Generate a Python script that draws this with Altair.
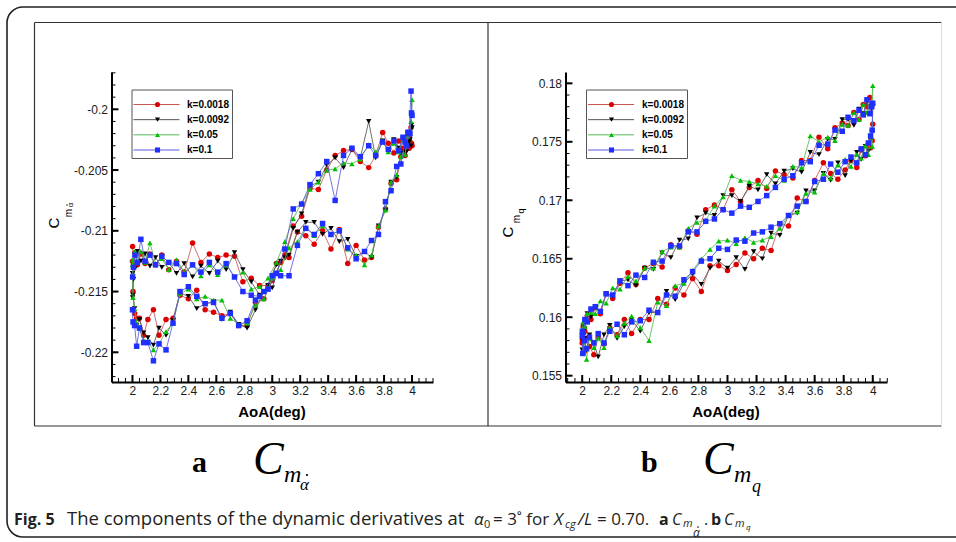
import altair as alt
import pandas as pd

# ---------------- data ----------------
SERIES = ["k=0.0018", "k=0.0092", "k=0.05", "k=0.1"]
MARKER_COLORS = ["#dd0000", "#000000", "#00c000", "#1f2fff"]
LINE_COLORS = ["#cc5555", "#555555", "#55bb55", "#5a5ade"]
SHAPES = ["circle", "triangle-down", "triangle-up", "square"]

# AoA samples over one oscillation cycle (up then down)
AOA = [2.000, 2.004, 2.015, 2.03, 2.05, 2.08, 2.11, 2.15, 2.19, 2.24, 2.29,
       2.34, 2.40, 2.46, 2.52, 2.58, 2.64, 2.70, 2.76, 2.82, 2.88, 2.94,
       3.00, 3.06, 3.12, 3.18, 3.24, 3.30, 3.36, 3.42, 3.48, 3.54, 3.60,
       3.66, 3.71, 3.76, 3.81, 3.85, 3.89, 3.92, 3.95, 3.97, 3.985, 3.996,
       4.000, 3.993, 3.98, 3.96, 3.935, 3.905, 3.87, 3.83, 3.79, 3.74, 3.69,
       3.63, 3.57, 3.51, 3.45, 3.39, 3.33, 3.27, 3.21, 3.15, 3.09, 3.03,
       2.97, 2.91, 2.85, 2.79, 2.73, 2.67, 2.61, 2.55, 2.49, 2.43, 2.37,
       2.315, 2.26, 2.21, 2.165, 2.125, 2.09, 2.06, 2.035, 2.018, 2.007, 2.001]

# panel a : Cm_alpha_dot
CMAD_0018 = [-0.2125, -0.2150, -0.2168, -0.2172, -0.2172, -0.2186, -0.2173, -0.2165, -0.2186, -0.2173, -0.2172,
             -0.2153, -0.2156, -0.2149, -0.2165, -0.2167, -0.2170, -0.2168, -0.2178, -0.2178, -0.2159, -0.2156,
             -0.2141, -0.2126, -0.2122, -0.2101, -0.2104, -0.2111, -0.2100, -0.2115, -0.2099, -0.2127, -0.2112,
             -0.2124, -0.2122, -0.2097, -0.2082, -0.2061, -0.2058, -0.2039, -0.2038, -0.2023, -0.2030, -0.2028,
             -0.2030, -0.2015, -0.2032, -0.2025, -0.2032, -0.2026, -0.2036, -0.2028, -0.2019, -0.2038, -0.2048,
             -0.2043, -0.2033, -0.2034, -0.2038, -0.2050, -0.2066, -0.2065, -0.2088, -0.2096, -0.2120, -0.2127,
             -0.2145, -0.2145, -0.2139, -0.2142, -0.2121, -0.2120, -0.2122, -0.2119, -0.2126, -0.2110, -0.2134,
             -0.2125, -0.2132, -0.2120, -0.2128, -0.2119, -0.2127, -0.2119, -0.2128, -0.2118, -0.2128, -0.2113]
CMAD_0092 = [-0.2135, -0.2153, -0.2164, -0.2178, -0.2173, -0.2184, -0.2188, -0.2194, -0.2180, -0.2186, -0.2174,
             -0.2151, -0.2154, -0.2164, -0.2160, -0.2158, -0.2173, -0.2167, -0.2177, -0.2180, -0.2165, -0.2150,
             -0.2147, -0.2125, -0.2120, -0.2101, -0.2093, -0.2093, -0.2103, -0.2098, -0.2109, -0.2107, -0.2121,
             -0.2117, -0.2122, -0.2096, -0.2083, -0.2060, -0.2056, -0.2036, -0.2035, -0.2023, -0.2025, -0.2013,
             -0.2015, -0.2030, -0.2027, -0.2035, -0.2025, -0.2032, -0.2025, -0.2034, -0.2026, -0.2040, -0.2010,
             -0.2040, -0.2033, -0.2048, -0.2040, -0.2046, -0.2060, -0.2063, -0.2086, -0.2098, -0.2122, -0.2128,
             -0.2145, -0.2153, -0.2142, -0.2132, -0.2118, -0.2132, -0.2125, -0.2135, -0.2129, -0.2138, -0.2127,
             -0.2135, -0.2126, -0.2130, -0.2122, -0.2129, -0.2119, -0.2125, -0.2117, -0.2131, -0.2140, -0.2155]
CMAD_05 = [-0.2128, -0.2155, -0.2164, -0.2176, -0.2180, -0.2190, -0.2191, -0.2198, -0.2193, -0.2183, -0.2176,
           -0.2152, -0.2148, -0.2156, -0.2154, -0.2157, -0.2157, -0.2172, -0.2177, -0.2176, -0.2161, -0.2156,
           -0.2139, -0.2132, -0.2114, -0.2109, -0.2097, -0.2104, -0.2096, -0.2103, -0.2100, -0.2115, -0.2120,
           -0.2128, -0.2120, -0.2096, -0.2083, -0.2060, -0.2054, -0.2039, -0.2037, -0.2022, -0.2020, -0.2003,
           -0.1992, -0.2010, -0.2019, -0.2029, -0.2025, -0.2035, -0.2028, -0.2035, -0.2026, -0.2035, -0.2029,
           -0.2041, -0.2045, -0.2044, -0.2049, -0.2050, -0.2060, -0.2066, -0.2077, -0.2090, -0.2109, -0.2126,
           -0.2139, -0.2146, -0.2148, -0.2134, -0.2138, -0.2128, -0.2136, -0.2128, -0.2137, -0.2128, -0.2134,
           -0.2124, -0.2132, -0.2123, -0.2127, -0.2110, -0.2126, -0.2117, -0.2126, -0.2117, -0.2127, -0.2124]
CMAD_1 = [-0.2165, -0.2175, -0.2178, -0.2195, -0.2180, -0.2192, -0.2192, -0.2207, -0.2193, -0.2198, -0.2176,
          -0.2150, -0.2146, -0.2154, -0.2160, -0.2159, -0.2172, -0.2168, -0.2178, -0.2174, -0.2157, -0.2150,
          -0.2137, -0.2137, -0.2137, -0.2112, -0.2098, -0.2103, -0.2094, -0.2103, -0.2100, -0.2114, -0.2123,
          -0.2117, -0.2108, -0.2103, -0.2076, -0.2067, -0.2047, -0.2045, -0.2027, -0.2019, -0.2020, -0.2003,
          -0.2005, -0.1985, -0.2019, -0.2030, -0.2023, -0.2034, -0.2026, -0.2033, -0.2027, -0.2038, -0.2030,
          -0.2039, -0.2032, -0.2038, -0.2075, -0.2043, -0.2053, -0.2062, -0.2078, -0.2082, -0.2115, -0.2135,
          -0.2148, -0.2154, -0.2153, -0.2150, -0.2138, -0.2127, -0.2134, -0.2126, -0.2134, -0.2128, -0.2136,
          -0.2127, -0.2126, -0.2121, -0.2128, -0.2120, -0.2125, -0.2107, -0.2126, -0.2120, -0.2130, -0.2138]

# panel b : Cm_q
CMQ_0018 = [0.1578, 0.1579, 0.1571, 0.1582, 0.1575, 0.1568, 0.1583, 0.1577, 0.1591, 0.1585, 0.1598,
            0.1586, 0.1598, 0.1598, 0.1616, 0.1611, 0.1625, 0.1619, 0.1633, 0.1622, 0.1644, 0.1644,
            0.1640, 0.1645, 0.1655, 0.1650, 0.1659, 0.1657, 0.1680, 0.1678, 0.1702, 0.1699, 0.1717,
            0.1732, 0.1723, 0.1718, 0.1726, 0.1734, 0.1728, 0.1743, 0.1738, 0.1748, 0.1745, 0.1751,
            0.1765, 0.1783, 0.1788, 0.1780, 0.1782, 0.1769, 0.1775, 0.1764, 0.1766, 0.1762, 0.1744,
            0.1754, 0.1734, 0.1734, 0.1719, 0.1722, 0.1725, 0.1710, 0.1717, 0.1711, 0.1699, 0.1709,
            0.1692, 0.1696, 0.1692, 0.1671, 0.1674, 0.1660, 0.1662, 0.1643, 0.1646, 0.1642, 0.1628,
            0.1638, 0.1629, 0.1616, 0.1620, 0.1603, 0.1608, 0.1598, 0.1601, 0.1588, 0.1592, 0.1581]
CMQ_0092 = [0.1572, 0.1580, 0.1582, 0.1572, 0.1585, 0.1578, 0.1566, 0.1585, 0.1593, 0.1582, 0.1592,
            0.1598, 0.1588, 0.1604, 0.1604, 0.1622, 0.1615, 0.1629, 0.1637, 0.1628, 0.1642, 0.1648,
            0.1642, 0.1651, 0.1641, 0.1656, 0.1650, 0.1672, 0.1670, 0.1687, 0.1689, 0.1708, 0.1708,
            0.1723, 0.1717, 0.1732, 0.1721, 0.1734, 0.1741, 0.1735, 0.1746, 0.1742, 0.1751, 0.1758,
            0.1780, 0.1778, 0.1774, 0.1784, 0.1774, 0.1778, 0.1764, 0.1769, 0.1769, 0.1752, 0.1752,
            0.1739, 0.1741, 0.1724, 0.1727, 0.1725, 0.1714, 0.1722, 0.1709, 0.1712, 0.1699, 0.1704,
            0.1704, 0.1687, 0.1689, 0.1685, 0.1667, 0.1666, 0.1651, 0.1655, 0.1641, 0.1642, 0.1627,
            0.1632, 0.1631, 0.1618, 0.1620, 0.1605, 0.1609, 0.1600, 0.1603, 0.1590, 0.1593, 0.1584]
CMQ_05 = [0.1570, 0.1570, 0.1580, 0.1564, 0.1582, 0.1574, 0.1582, 0.1574, 0.1591, 0.1584, 0.1595,
          0.1601, 0.1591, 0.1580, 0.1613, 0.1610, 0.1627, 0.1629, 0.1640, 0.1650, 0.1658, 0.1665,
          0.1666, 0.1663, 0.1668, 0.1664, 0.1666, 0.1669, 0.1676, 0.1687, 0.1690, 0.1706, 0.1707,
          0.1723, 0.1719, 0.1730, 0.1735, 0.1729, 0.1739, 0.1736, 0.1747, 0.1739, 0.1755, 0.1746,
          0.1798, 0.1783, 0.1782, 0.1775, 0.1782, 0.1769, 0.1775, 0.1764, 0.1765, 0.1751, 0.1754,
          0.1750, 0.1755, 0.1728, 0.1729, 0.1717, 0.1721, 0.1712, 0.1714, 0.1716, 0.1717, 0.1721,
          0.1703, 0.1695, 0.1683, 0.1681, 0.1676, 0.1660, 0.1660, 0.1656, 0.1642, 0.1642, 0.1631,
          0.1635, 0.1624, 0.1625, 0.1612, 0.1614, 0.1603, 0.1604, 0.1603, 0.1592, 0.1596, 0.1589]
CMQ_1 = [0.1584, 0.1569, 0.1580, 0.1573, 0.1583, 0.1578, 0.1586, 0.1578, 0.1588, 0.1594, 0.1585,
         0.1596, 0.1597, 0.1606, 0.1604, 0.1619, 0.1618, 0.1632, 0.1639, 0.1648, 0.1650, 0.1659,
         0.1658, 0.1666, 0.1665, 0.1672, 0.1673, 0.1677, 0.1680, 0.1687, 0.1695, 0.1699, 0.1716,
         0.1718, 0.1731, 0.1724, 0.1733, 0.1737, 0.1732, 0.1744, 0.1739, 0.1749, 0.1755, 0.1760,
         0.1783, 0.1780, 0.1774, 0.1786, 0.1773, 0.1777, 0.1768, 0.1771, 0.1759, 0.1760, 0.1748,
         0.1747, 0.1733, 0.1732, 0.1721, 0.1718, 0.1711, 0.1704, 0.1699, 0.1694, 0.1695, 0.1689,
         0.1692, 0.1684, 0.1682, 0.1673, 0.1673, 0.1661, 0.1661, 0.1648, 0.1647, 0.1634, 0.1636,
         0.1627, 0.1631, 0.1619, 0.1620, 0.1605, 0.1609, 0.1607, 0.1596, 0.1598, 0.1587, 0.1588]

X_TICKS = [2, 2.2, 2.4, 2.6, 2.8, 3, 3.2, 3.4, 3.6, 3.8, 4]
Y_TICKS_A = [-0.22, -0.215, -0.21, -0.205, -0.2]
Y_TICKS_B = [0.155, 0.16, 0.165, 0.17, 0.175, 0.18]
X_MINOR_A = [round(1.85 + 0.05 * i, 3) for i in range(47)]
X_MINOR_B = [round(1.90 + 0.05 * i, 3) for i in range(45)]
Y_MINOR_A = [round(-0.222 + 0.001 * i, 4) for i in range(26)]
Y_MINOR_B = [round(0.155 + 0.001 * i, 4) for i in range(26)]

FONT = "Liberation Sans"
CAP = "Open Sans"
CAPC = "#231f20"
ONE = pd.DataFrame({"d": [0]})


def series_df(aoa, vals):
    n = min(len(aoa), len(vals))
    return pd.DataFrame({"aoa": aoa[:n], "val": vals[:n], "order": list(range(n))})


def panel(aoa, series_vals, xdom, xr, ydom, yr, yticks, xminor, yminor):
    xax = alt.Axis(orient="bottom", offset=yr[0] - 542, values=X_TICKS, ticks=False, tickSize=0,
                   domainColor="#000000", domainWidth=2, labelFont=FONT, labelFontSize=12,
                   labelColor="#1a1a1a", labelPadding=3, labelExpr="toString(datum.value)",
                   grid=False, title=None, labelFlush=False, labelOverlap=False)
    yax = alt.Axis(orient="left", offset=-xr[0], values=yticks, ticks=False, tickSize=0,
                   domainColor="#000000", domainWidth=2, labelFont=FONT, labelFontSize=12,
                   labelColor="#1a1a1a", labelPadding=4, labelExpr="toString(datum.value)",
                   grid=False, title=None, labelFlush=False, labelOverlap=False)
    xs = alt.Scale(domain=xdom, range=xr, zero=False, nice=False)
    ys = alt.Scale(domain=ydom, range=yr, zero=False, nice=False)
    X = alt.X("aoa:Q", scale=xs, axis=xax)
    Y = alt.Y("val:Q", scale=ys, axis=yax)
    layers = []
    for i, vals in enumerate(series_vals):
        df = series_df(aoa, vals)
        layers.append(alt.Chart(df).mark_line(color=LINE_COLORS[i], strokeWidth=1, opacity=0.85)
                      .encode(x=X, y=Y, order="order:Q"))
        layers.append(alt.Chart(df).mark_point(shape=SHAPES[i], filled=True, color=MARKER_COLORS[i],
                                               size=30, opacity=1)
                      .encode(x=X, y=Y))
    bottom = yr[0]
    left = xr[0]
    layers.append(alt.Chart(pd.DataFrame({"aoa": xminor})).mark_rule(color="#000", strokeWidth=1)
                  .encode(x=X, y=alt.value(bottom), y2=alt.value(bottom - 4)))
    layers.append(alt.Chart(pd.DataFrame({"aoa": X_TICKS})).mark_rule(color="#000", strokeWidth=2)
                  .encode(x=X, y=alt.value(bottom), y2=alt.value(bottom - 7)))
    layers.append(alt.Chart(pd.DataFrame({"val": yminor})).mark_rule(color="#000", strokeWidth=1)
                  .encode(y=Y, x=alt.value(left), x2=alt.value(left + 4)))
    layers.append(alt.Chart(pd.DataFrame({"val": yticks})).mark_rule(color="#000", strokeWidth=2)
                  .encode(y=Y, x=alt.value(left), x2=alt.value(left + 7)))
    return alt.layer(*layers)


def legend(x0, x1, y0, y1, lx0, lx1, mx, tx):
    df = pd.DataFrame({"k": SERIES})
    LY = alt.Y("k:N", scale=alt.Scale(type="point", domain=SERIES, range=[104.5, 150], padding=0), axis=None)
    box = alt.Chart(ONE).mark_rect(fill="#ffffff", stroke="#555555", strokeWidth=1).encode(
        x=alt.value(x0), x2=alt.value(x1), y=alt.value(y0), y2=alt.value(y1))
    line = alt.Chart(df).mark_rule(strokeWidth=1).encode(
        x=alt.value(lx0), x2=alt.value(lx1), y=LY,
        stroke=alt.Stroke("k:N", scale=alt.Scale(domain=SERIES, range=LINE_COLORS), legend=None))
    pts = alt.Chart(df).mark_point(filled=True, size=26, opacity=1).encode(
        x=alt.value(mx), y=LY,
        fill=alt.Fill("k:N", scale=alt.Scale(domain=SERIES, range=MARKER_COLORS), legend=None),
        shape=alt.Shape("k:N", scale=alt.Scale(domain=SERIES, range=SHAPES), legend=None))
    txt = alt.Chart(df).mark_text(align="left", baseline="middle", font=FONT, fontSize=10,
                                  fontWeight="bold", color="#000").encode(
        x=alt.value(tx), y=LY, text="k:N")
    return alt.layer(box, line, pts, txt)


def text(s, x, y, size, font=FONT, weight="normal", style="normal", angle=0, align="left",
         baseline="alphabetic", color="#000000"):
    return alt.Chart(ONE).mark_text(text=s, font=font, fontSize=size, fontWeight=weight, fontStyle=style,
                                    angle=angle, align=align, baseline=baseline, color=color).encode(
        x=alt.value(x), y=alt.value(y))


def dot(x, y, size, color="#000000"):
    # the over-dot of "alpha-dot"
    return alt.Chart(ONE).mark_circle(size=size, color=color, opacity=1).encode(
        x=alt.value(x), y=alt.value(y))


def rule(x1, y1, x2, y2, color="#333333", w=1):
    return alt.Chart(ONE).mark_rule(color=color, strokeWidth=w).encode(
        x=alt.value(x1), y=alt.value(y1), x2=alt.value(x2), y2=alt.value(y2))


# ---------------- frames ----------------
outer = alt.Chart(ONE).mark_rect(fillOpacity=0, stroke="#222222", strokeWidth=1.6, cornerRadius=16).encode(
    x=alt.value(7), x2=alt.value(1010), y=alt.value(7), y2=alt.value(537))
frames = [
    outer,
    rule(34.5, 22.5, 941.5, 22.5, "#333333", 1.2),
    rule(34.5, 22.5, 34.5, 426, "#333333", 1.2),
    rule(34.5, 426, 941.5, 426, "#333333", 1.2),
    rule(488, 22.5, 488, 426, "#333333", 1.2),
    rule(941.5, 22.5, 941.5, 426, "#dddddd", 1),
]

panel_a = panel(AOA, [CMAD_0018, CMAD_0092, CMAD_05, CMAD_1], [1.85, 4.15], [111.5, 433],
                [-0.222444, -0.19693], [382, 72], Y_TICKS_A, X_MINOR_A, Y_MINOR_A)
panel_b = panel(AOA, [CMQ_0018, CMQ_0092, CMQ_05, CMQ_1], [1.885, 4.098], [565.5, 887],
                [0.15446, 0.18097], [382, 72], Y_TICKS_B, X_MINOR_B, Y_MINOR_B)

leg_a = legend(132, 232.5, 90, 158.5, 133.5, 179.5, 157.5, 187)
leg_b = legend(586.5, 687.5, 90, 158.5, 588, 634, 611.5, 642)

labels = [
    # axis titles
    text("AoA(deg)", 272, 412, 15, weight="bold", align="center", baseline="middle"),
    text("AoA(deg)", 726, 412, 15, weight="bold", align="center", baseline="middle"),
    text("C", 54, 223, 15, angle=270, align="center", baseline="middle"),
    text("m", 68.5, 213, 10, angle=270, align="center", baseline="middle"),
    text("α", 71, 205, 8, angle=270, align="center", baseline="middle"),
    dot(67, 205, 2),
    text("C", 507.5, 232, 15, angle=270, align="center", baseline="middle"),
    text("m", 517, 219, 10, angle=270, align="center", baseline="middle"),
    text("q", 520.5, 211, 9, angle=270, align="center", baseline="middle"),
    # sub-figure labels
    text("a", 192, 472, 30, font="Liberation Serif", weight="bold"),
    text("C", 253, 474, 46, font="Liberation Serif", style="italic"),
    text("m", 284, 482, 24, font="Liberation Serif", style="italic"),
    text("α", 300, 490, 17, font="Liberation Serif", style="italic"),
    dot(307, 475, 5),
    text("b", 641, 472, 30, font="Liberation Serif", weight="bold"),
    text("C", 703, 474, 46, font="Liberation Serif", style="italic"),
    text("m", 734, 482, 24, font="Liberation Serif", style="italic"),
    text("q", 752, 492, 18, font="Liberation Serif", style="italic"),
    # caption
    text("Fig. 5", 14, 525, 16, font=CAP, weight="bold", color=CAPC),
    text("The components of the dynamic derivatives at", 67, 525, 18.5, font=CAP, color=CAPC),
    text("α", 474, 525, 17, font=CAP, style="italic", color=CAPC),
    text("0", 484, 528, 11, font=CAP, color=CAPC),
    text("= 3˚ for", 493, 525, 17, font=CAP, color=CAPC),
    text("X", 554, 525, 17, font=CAP, style="italic", color=CAPC),
    text("cg", 565, 528, 11, font=CAP, style="italic", color=CAPC),
    text("/L", 578, 525, 17, font=CAP, style="italic", color=CAPC),
    text("= 0.70.", 597, 525, 17, font=CAP, color=CAPC),
    text("a", 659, 525, 16, font=CAP, weight="bold", color=CAPC),
    text("C", 672, 525, 16, font=CAP, style="italic", color=CAPC),
    text("m", 683, 527, 11, font=CAP, style="italic", color=CAPC),
    text("α", 693, 537, 12, font=CAP, style="italic", color=CAPC),
    dot(698, 527, 3, CAPC),
    text(".", 704, 525, 16, font=CAP, color=CAPC),
    text("b", 711, 525, 16, font=CAP, weight="bold", color=CAPC),
    text("C", 724, 525, 16, font=CAP, style="italic", color=CAPC),
    text("m", 735, 527, 11, font=CAP, style="italic", color=CAPC),
    text("q", 746, 530, 8, font=CAP, style="italic", color=CAPC),
]

chart = alt.layer(*frames, panel_a, panel_b, leg_a, leg_b, *labels).resolve_scale(
    x="independent", y="independent"
).properties(
    width=956, height=542, padding=0, autosize=alt.AutoSizeParams(type="none"), background="#ffffff"
).configure_view(strokeWidth=0)

chart.save("out.html", embed_options={"renderer": "svg", "actions": False})
